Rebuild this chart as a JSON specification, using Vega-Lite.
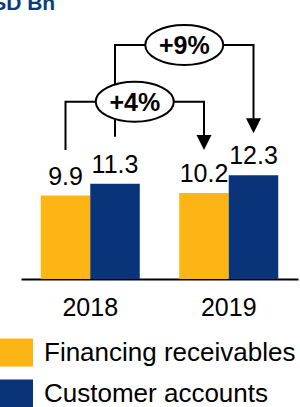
{
  "$schema": "https://vega.github.io/schema/vega-lite/v6.json",
  "autosize": {"type": "none"},
  "width": 277,
  "height": 279,
  "padding": {"left": 21, "top": 0, "right": 2, "bottom": 128},
  "background": "white",
  "config": {"font": "Liberation Sans", "view": {"stroke": null}},
  "title": {"text": "USD Bn", "anchor": "start", "fontSize": 21, "fontWeight": "bold", "color": "#0B3C7D", "offset": -14, "dx": -23},
  "datasets": {
    "bars": [
      {"year": "2018", "series": "Financing receivables", "value": 9.9},
      {"year": "2018", "series": "Customer accounts", "value": 11.3},
      {"year": "2019", "series": "Financing receivables", "value": 10.2},
      {"year": "2019", "series": "Customer accounts", "value": 12.3}
    ],
    "connectors": [
      {"bracket": "+4%", "step": 1, "year": "2018", "series": "Financing receivables", "level": 15.3},
      {"bracket": "+4%", "step": 2, "year": "2018", "series": "Financing receivables", "level": 21.03},
      {"bracket": "+4%", "step": 3, "year": "2019", "series": "Financing receivables", "level": 21.03},
      {"bracket": "+4%", "step": 4, "year": "2019", "series": "Financing receivables", "level": 17.0},
      {"bracket": "+9%", "step": 1, "year": "2018", "series": "Customer accounts", "level": 16.88},
      {"bracket": "+9%", "step": 2, "year": "2018", "series": "Customer accounts", "level": 27.76},
      {"bracket": "+9%", "step": 3, "year": "2019", "series": "Customer accounts", "level": 27.76},
      {"bracket": "+9%", "step": 4, "year": "2019", "series": "Customer accounts", "level": 19.0}
    ],
    "arrows": [
      {"bracket": "+4%", "year": "2019", "series": "Financing receivables", "level": 15.3},
      {"bracket": "+9%", "year": "2019", "series": "Customer accounts", "level": 17.28}
    ],
    "badges": [
      {"label": "+4%", "year": "2018", "series": "Financing receivables", "level": 21.03},
      {"label": "+9%", "year": "2018", "series": "Customer accounts", "level": 27.76}
    ]
  },
  "encoding": {
    "x": {"field": "year", "type": "nominal", "scale": {"paddingInner": 0.285, "paddingOuter": 0.1426},
      "axis": {"title": null, "labelAngle": 0, "labelFontSize": 25, "labelColor": "black", "labelPadding": 16, "ticks": false, "domainColor": "black", "domainWidth": 2, "grid": false}},
    "xOffset": {"field": "series", "type": "nominal", "sort": ["Financing receivables", "Customer accounts"], "scale": {"paddingInner": 0, "paddingOuter": 0}},
    "y": {"field": "value", "type": "quantitative", "scale": {"domain": [0, 33.1], "nice": false, "zero": true}, "axis": null}
  },
  "layer": [
    {
      "data": {"name": "bars"},
      "mark": {"type": "bar"},
      "encoding": {
        "color": {"field": "series", "type": "nominal",
          "scale": {"domain": ["Financing receivables", "Customer accounts"], "range": ["#FDB515", "#0A347A"]},
          "legend": {"orient": "none", "legendX": -21, "legendY": 336, "title": null, "direction": "vertical",
            "symbolType": "M-1,-0.85L1,-0.85L1,0.85L-1,0.85Z", "symbolSize": 1089, "symbolStrokeWidth": 0, "symbolOpacity": 1,
            "labelFontSize": 26, "labelColor": "black", "labelOffset": 11, "rowPadding": 10, "labelLimit": 300}}
      }
    },
    {
      "data": {"name": "bars"},
      "mark": {"type": "text", "fontSize": 25, "color": "black", "baseline": "alphabetic", "dy": -11},
      "encoding": {"text": {"field": "value", "type": "quantitative", "format": ".1f"}}
    },
    {
      "data": {"name": "connectors"},
      "mark": {"type": "line", "color": "black", "strokeWidth": 2, "strokeJoin": "miter", "strokeCap": "butt"},
      "encoding": {
        "y": {"field": "level", "type": "quantitative"},
        "detail": {"field": "bracket"},
        "order": {"field": "step", "type": "quantitative"}
      }
    },
    {
      "data": {"name": "arrows"},
      "mark": {"type": "point", "shape": "M-1,-2L1,-2L0,0Z", "size": 225, "filled": true, "color": "black", "opacity": 1, "strokeWidth": 0},
      "encoding": {"y": {"field": "level", "type": "quantitative"}}
    },
    {
      "data": {"name": "badges"},
      "mark": {"type": "point", "shape": "M0.7756,0A1,0.5128,0,1,1,2.7756,0A1,0.5128,0,1,1,0.7756,0Z", "size": 6084, "filled": false, "fill": "white", "fillOpacity": 1, "stroke": "black", "strokeWidth": 2, "opacity": 1},
      "encoding": {"y": {"field": "level", "type": "quantitative"}}
    },
    {
      "data": {"name": "badges"},
      "mark": {"type": "text", "fontSize": 25, "fontWeight": "bold", "color": "black", "baseline": "middle", "align": "center", "dx": 69.25, "dy": 1},
      "encoding": {"y": {"field": "level", "type": "quantitative"}, "text": {"field": "label"}}
    }
  ]
}
